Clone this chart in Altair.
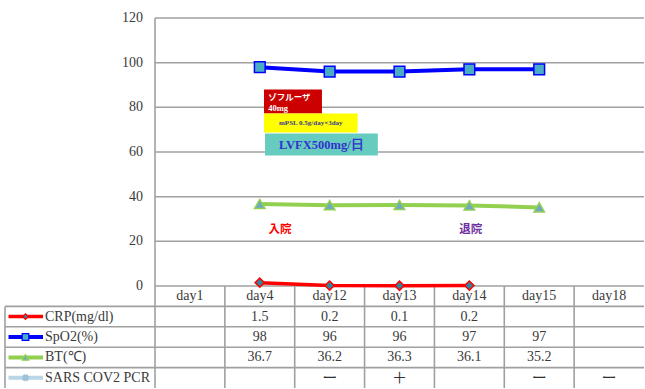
import altair as alt
import pandas as pd

# ---------------- data ----------------
days = ["day1", "day4", "day12", "day13", "day14", "day15", "day18"]
crp = [None, 1.5, 0.2, 0.1, 0.2, None, None]
spo2 = [None, 98, 96, 96, 97, 97, None]
bt = [None, 36.7, 36.2, 36.3, 36.1, 35.2, None]
pcr = ["", "", "ー", "＋", "", "ー", "ー"]
series_names = ["CRP(mg/dl)", "SpO2(%)", "BT(℃)", "SARS COV2 PCR"]
y_ticks = [0, 20, 40, 60, 80, 100, 120]
drug_labels = ["ゾフルーザ", "40mg", "mPSL 0.5g/day×3day", "LVFX500mg/日"]
event_labels = ["入院", "退院"]

# ---------------- layout / style ----------------
PLOT_W, PLOT_H = 489, 268
N = len(days)
YMAX = 120
PX_X = PLOT_W / N
PX_Y = PLOT_H / YMAX
ROW_U = 20.4 / PX_Y          # table row height in y units
LEG_U = 150 / PX_X           # legend column width in x units
SERIF = "Liberation Serif"
CJK = "Noto Sans CJK JP"
GRID = "#A0A0A0"
TXT = "#3a3a3a"

styles = [
    dict(line="#FF0000", fill="#31859C", stroke="#FF0000", shape="diamond", size=85, lw=3.5, lsize=30),
    dict(line="#0000FF", fill="#4BACC6", stroke="#0000FF", shape="square", size=115, lw=4, lsize=45),
    dict(line="#92D050", fill="#6FA8C4", stroke="#92D050", shape="triangle-up", size=110, lw=4, lsize=40),
    dict(line="#B9D6E6", fill="#9CC2D8", stroke="#9CC2D8", shape="cross", size=40, lw=4, lsize=35),
]

xs = alt.Scale(domain=[0, N], nice=False, zero=False)
ys = alt.Scale(domain=[0, YMAX], nice=False, zero=False)


def X(f):
    return alt.X(f, type="quantitative", scale=xs, axis=None)


def Y(f):
    return alt.Y(f, type="quantitative", scale=ys, axis=None)


def series_df(vals):
    return pd.DataFrame([{"x": i + 0.5, "v": v} for i, v in enumerate(vals) if v is not None])


layers = []

# y gridlines and labels
layers.append(
    alt.Chart(pd.DataFrame({"y": y_ticks, "x1": 0, "x2": N})).mark_rule(color=GRID, strokeWidth=1.5)
    .encode(x=X("x1"), x2=alt.X2("x2"), y=Y("y"))
)
layers.append(
    alt.Chart(pd.DataFrame({"y": y_ticks, "x": -12 / PX_X, "t": [str(v) for v in y_ticks]}))
    .mark_text(align="right", baseline="middle", font=SERIF, fontSize=14, color=TXT)
    .encode(x=X("x"), y=Y("y"), text="t:N")
)

# table lines
lines = []
for r in range(1, 5):
    lines.append({"x1": -LEG_U, "x2": N, "y1": -r * ROW_U, "y2": -r * ROW_U})
lines.append({"x1": -LEG_U, "x2": -LEG_U, "y1": -ROW_U, "y2": -5 * ROW_U})
lines.append({"x1": 0, "x2": 0, "y1": YMAX, "y2": -5 * ROW_U})
for c in range(1, N):
    lines.append({"x1": c, "x2": c, "y1": 0, "y2": -5 * ROW_U})
layers.append(
    alt.Chart(pd.DataFrame(lines)).mark_rule(color=GRID, strokeWidth=1.6).encode(
        x=X("x1"), x2=alt.X2("x2"), y=Y("y1"), y2=alt.Y2("y2"))
)

# annotation boxes
boxes = pd.DataFrame([
    {"x1": 1.56, "x2": 2.39, "y1": 77.2, "y2": 88.0, "c": "#CC0000"},
    {"x1": 1.56, "x2": 2.90, "y1": 68.7, "y2": 77.2, "c": "#FFFF00"},
    {"x1": 1.575, "x2": 3.19, "y1": 58.4, "y2": 68.3, "c": "#66CCC0"},
])
layers.append(
    alt.Chart(boxes).mark_rect().encode(
        x=X("x1"), x2=alt.X2("x2"), y=Y("y1"), y2=alt.Y2("y2"),
        color=alt.Color("c:N", scale=None))
)
layers.append(
    alt.Chart(pd.DataFrame([{"x": 1.62, "y": 84.6, "t": drug_labels[0]}])).mark_text(
        align="left", baseline="middle", font=CJK, fontSize=8.5, fontWeight="bold", color="white"
    ).encode(x=X("x"), y=Y("y"), text="t:N")
)
layers.append(
    alt.Chart(pd.DataFrame([{"x": 1.62, "y": 79.6, "t": drug_labels[1]}])).mark_text(
        align="left", baseline="middle", font=SERIF, fontSize=8.5, fontWeight="bold", color="white"
    ).encode(x=X("x"), y=Y("y"), text="t:N")
)
layers.append(
    alt.Chart(pd.DataFrame([{"x": 2.23, "y": 72.9, "t": drug_labels[2]}])).mark_text(
        align="center", baseline="middle", font=SERIF, fontSize=7, fontWeight="bold", color="#3A3A8C"
    ).encode(x=X("x"), y=Y("y"), text="t:N")
)
layers.append(
    alt.Chart(pd.DataFrame([{"x": 2.38, "y": 63.3, "t": drug_labels[3]}])).mark_text(
        align="center", baseline="middle", font=SERIF, fontSize=12.5, fontWeight="bold", color="#3333CC"
    ).encode(x=X("x"), y=Y("y"), text="t:N")
)

# event labels
events = pd.DataFrame([
    {"x": 1.79, "y": 24.9, "t": event_labels[0], "c": "#FF0000"},
    {"x": 4.52, "y": 24.9, "t": event_labels[1], "c": "#7030A0"},
])
layers.append(
    alt.Chart(events).mark_text(align="center", baseline="middle", font=CJK, fontSize=11.5,
                                fontWeight="bold").encode(
        x=X("x"), y=Y("y"), text="t:N", color=alt.Color("c:N", scale=None))
)

# series lines + markers
for vals, st in zip([crp, spo2, bt], styles[:3]):
    df = series_df(vals)
    layers.append(alt.Chart(df).mark_line(color=st["line"], strokeWidth=st["lw"]).encode(
        x=X("x"), y=Y("v")))
    layers.append(alt.Chart(df).mark_point(
        shape=st["shape"], filled=True, fill=st["fill"], stroke=st["stroke"], strokeWidth=1.5,
        size=st["size"], opacity=1).encode(x=X("x"), y=Y("v")))

# table header
layers.append(
    alt.Chart(pd.DataFrame([{"x": i + 0.5, "y": -0.5 * ROW_U, "t": d} for i, d in enumerate(days)]))
    .mark_text(align="center", baseline="middle", font=SERIF, fontSize=14, color=TXT)
    .encode(x=X("x"), y=Y("y"), text="t:N")
)

# table values
cells = []
for r, vals in enumerate([crp, spo2, bt], start=1):
    for i, v in enumerate(vals):
        if v is not None:
            cells.append({"x": i + 0.5, "y": -(r + 0.5) * ROW_U, "t": f"{v:g}"})
layers.append(
    alt.Chart(pd.DataFrame(cells)).mark_text(align="center", baseline="middle", font=SERIF,
                                             fontSize=14, color=TXT)
    .encode(x=X("x"), y=Y("y"), text="t:N")
)
layers.append(
    alt.Chart(pd.DataFrame([{"x": i + 0.5, "y": -4.5 * ROW_U, "t": t} for i, t in enumerate(pcr) if t]))
    .mark_text(align="center", baseline="middle", font=CJK, fontSize=15, color="#303030")
    .encode(x=X("x"), y=Y("y"), text="t:N")
)

# legend column
for r, (name, st) in enumerate(zip(series_names, styles), start=1):
    yc = -(r + 0.5) * ROW_U
    layers.append(
        alt.Chart(pd.DataFrame([{"x1": -LEG_U + 3.5 / PX_X, "x2": -LEG_U + 38 / PX_X, "y": yc}]))
        .mark_rule(color=st["line"], strokeWidth=st["lw"]).encode(x=X("x1"), x2=alt.X2("x2"), y=Y("y"))
    )
    mk = dict(shape=st["shape"], filled=True, fill=st["fill"], stroke=st["stroke"], strokeWidth=1.2,
              size=st["lsize"], opacity=1)
    if st["shape"] == "cross":
        mk["angle"] = 45
    layers.append(
        alt.Chart(pd.DataFrame([{"x": -LEG_U + 20.5 / PX_X, "y": yc}]))
        .mark_point(**mk).encode(x=X("x"), y=Y("y"))
    )
    layers.append(
        alt.Chart(pd.DataFrame([{"x": -LEG_U + 40 / PX_X, "y": yc, "t": name}]))
        .mark_text(align="left", baseline="middle", font=SERIF, fontSize=14, color=TXT)
        .encode(x=X("x"), y=Y("y"), text="t:N")
    )

chart = alt.layer(*layers).properties(
    width=PLOT_W, height=PLOT_H,
    padding={"left": 4, "top": 11, "right": 0, "bottom": 0},
).configure_view(stroke=None)

chart.save("out.html", embed_options={"renderer": "svg", "actions": False})
